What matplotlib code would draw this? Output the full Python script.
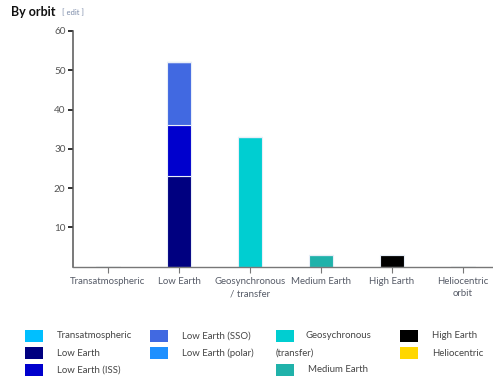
import matplotlib
matplotlib.use("Agg")
import matplotlib.pyplot as plt
from matplotlib.patches import Rectangle

plt.rcParams['font.family'] = ['Lato', 'DejaVu Sans']

# Orbit categories along the x axis
categories = ["Transatmospheric", "Low Earth", "Geosynchronous\n/ transfer",
              "Medium Earth", "High Earth", "Heliocentric\norbit"]

# Launch counts per series (one entry per category, stacked)
transatmospheric = [0, 0, 0, 0, 0, 0]
low_earth        = [0, 23, 0, 0, 0, 0]
low_earth_iss    = [0, 13, 0, 0, 0, 0]
low_earth_sso    = [0, 16, 0, 0, 0, 0]
low_earth_polar  = [0, 0, 0, 0, 0, 0]
geosynchronous   = [0, 0, 33, 0, 0, 0]
medium_earth     = [0, 0, 0, 3, 0, 0]
high_earth       = [0, 0, 0, 0, 3, 0]
heliocentric     = [0, 0, 0, 0, 0, 0]

series = [
    ("Transatmospheric", transatmospheric, "#00BFFF"),
    ("Low Earth", low_earth, "#000080"),
    ("Low Earth (ISS)", low_earth_iss, "#0000CD"),
    ("Low Earth (SSO)", low_earth_sso, "#4169E1"),
    ("Low Earth (polar)", low_earth_polar, "#1E90FF"),
    ("Geosychronous (transfer)", geosynchronous, "#00CED1"),
    ("Medium Earth", medium_earth, "#20B2AA"),
    ("High Earth", high_earth, "#000000"),
    ("Heliocentric", heliocentric, "#FFD700"),
]

W, H = 493, 376
fig = plt.figure(figsize=(W / 100, H / 100), dpi=100)
fig.patch.set_facecolor("white")

def fx(px):
    return px / W

def fy(py):
    return 1 - py / H

ax = fig.add_axes([fx(72.5), fy(266.5), fx(498.5) - fx(72.5), fy(31) - fy(266.5)])

x = list(range(len(categories)))
bottom = [0] * len(categories)
for name, vals, color in series:
    ax.bar(x, vals, width=0.33, bottom=bottom, color=color,
           edgecolor="#e8eef8", linewidth=0.8, zorder=2)
    bottom = [b + v for b, v in zip(bottom, vals)]

ax.set_xlim(-0.5, 5.5)
ax.set_ylim(0, 60)
ax.set_yticks([10, 20, 30, 40, 50, 60])
ax.set_xticks(x)
ax.set_xticklabels(categories, fontsize=6.9, color="#555a66", linespacing=1.5)
ax.tick_params(axis="y", direction="out", length=3.5, width=1.3, color="#222222",
               labelsize=7.2, labelcolor="#555555", pad=1.5)
ax.tick_params(axis="x", direction="out", length=4.5, width=0.8, color="#777777",
               pad=3)
for s in ("top", "right"):
    ax.spines[s].set_visible(False)
ax.spines["left"].set_color("#555555")
ax.spines["left"].set_linewidth(1.1)
ax.spines["bottom"].set_color("#777777")
ax.spines["bottom"].set_linewidth(1.0)
ax.set_facecolor("white")

# Title and edit link
fig.text(fx(11), fy(12), "By orbit", fontsize=9, fontweight="bold",
         color="#111111", va="center", ha="left")
fig.text(fx(62), fy(12.5), "[ edit ]", fontsize=5.5, color="#7a8aa8",
         va="center", ha="left")

# Legend laid out in four columns under the chart
pw, ph = 18, 12
legend_slots = [
    (25, 336), (25, 353), (25, 370),
    (150, 336), (150, 353),
    (276, 336), (276, 370),
    (400, 336), (400, 353),
]
for (name, vals, color), (lx, ly) in zip(series, legend_slots):
    fig.patches.append(Rectangle((fx(lx), fy(ly + ph / 2)), fx(pw), fy(0) - fy(ph),
                                 transform=fig.transFigure, facecolor=color,
                                 edgecolor="none"))
    if name.startswith("Geosychronous"):
        fig.text(fx(lx + 30), fy(ly), "Geosychronous", fontsize=6.9,
                 color="#444444", va="center", ha="left")
        fig.text(fx(lx), fy(ly + 17), "(transfer)", fontsize=6.9,
                 color="#444444", va="center", ha="left")
    else:
        fig.text(fx(lx + 32), fy(ly), name, fontsize=6.9, color="#444444",
                 va="center", ha="left")

fig.savefig("out.png", dpi=100)
